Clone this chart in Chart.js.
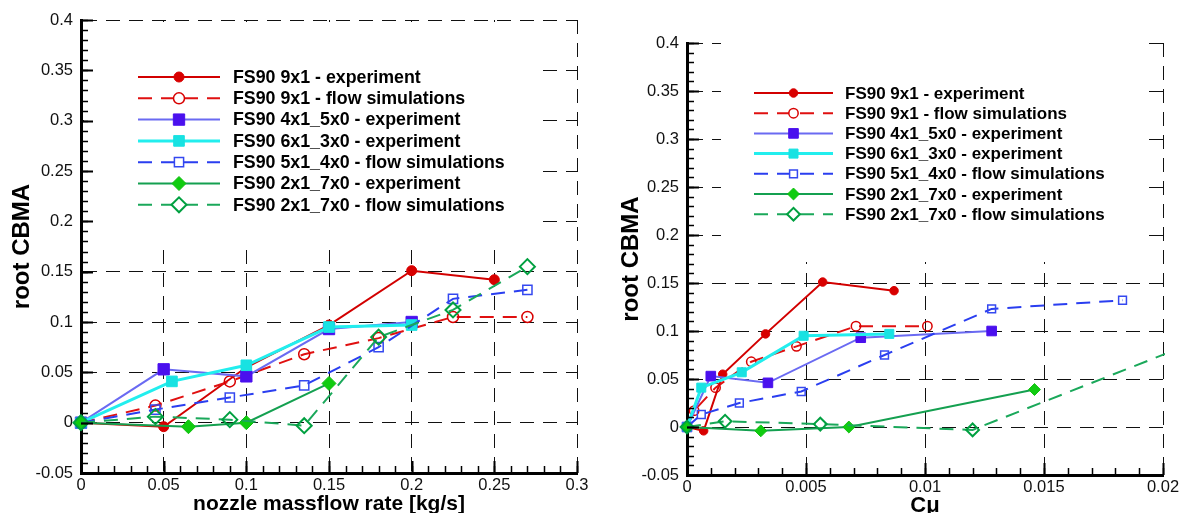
<!DOCTYPE html>
<html>
<head>
<meta charset="utf-8">
<script src="https://cdn.jsdelivr.net/npm/chart.js@4.4.0/dist/chart.umd.min.js"></script>
<style>
  body { margin: 0; background: #fff; }
  #wrap { position: relative; width: 1185px; height: 513px; overflow: hidden; background: #fff; }
  #left { position: absolute; left: 0; top: 0; }
  #right { position: absolute; left: 600px; top: 0; }
</style>
</head>
<body>
<div id="wrap">
  <canvas id="left" width="600" height="513"></canvas>
  <canvas id="right" width="585" height="513"></canvas>
</div>
<script>
const FONT = "'Liberation Sans', Arial, Helvetica, sans-serif";

const seriesLabels = [
  "FS90 9x1 - experiment",
  "FS90 9x1 - flow simulations",
  "FS90 4x1_5x0 - experiment",
  "FS90 6x1_3x0 - experiment",
  "FS90 5x1_4x0 - flow simulations",
  "FS90 2x1_7x0 - experiment",
  "FS90 2x1_7x0 - flow simulations"
];

// root CBMA values (same for both plots)
const cbma9x1Exp = [0, -0.004, 0.055, 0.097, 0.151, 0.142];
const cbma9x1Sim = [0, 0.017, 0.041, 0.068, 0.084, 0.105, 0.105];
const cbma4x1Exp = [0, 0.053, 0.046, 0.093, 0.1];
const cbma6x1Exp = [0, 0.041, 0.057, 0.095, 0.097];
const cbma5x1Sim = [0, 0.013, 0.025, 0.037, 0.075, 0.123, 0.132];
const cbma2x1Exp = [0, -0.004, 0, 0.039];
const cbma2x1Sim = [0, 0.006, 0.003, -0.003, 0.085, 0.112, 0.155];

// left plot: nozzle massflow rate [kg/s]
const mdot9x1Exp = [0, 0.05, 0.1, 0.15, 0.2, 0.25];
const mdot9x1Sim = [0, 0.045, 0.09, 0.135, 0.18, 0.225, 0.27];
const mdot4x1Exp = [0, 0.05, 0.1, 0.15, 0.2];
const mdot6x1Exp = [0, 0.055, 0.1, 0.15, 0.2];
const mdot5x1Sim = [0, 0.045, 0.09, 0.135, 0.18, 0.225, 0.27];
const mdot2x1Exp = [0, 0.065, 0.1, 0.15];
const mdot2x1Sim = [0, 0.045, 0.09, 0.135, 0.18, 0.225, 0.27];

// right plot: C mu
const cmu9x1Exp = [0, 0.0007, 0.0015, 0.0033, 0.0057, 0.0087];
const cmu9x1Sim = [0, 0.0003, 0.0012, 0.0027, 0.0046, 0.0071, 0.0101];
const cmu4x1Exp = [0, 0.001, 0.0034, 0.0073, 0.0128];
const cmu6x1Exp = [0, 0.0006, 0.0023, 0.0049, 0.0085];
const cmu5x1Sim = [0, 0.0006, 0.0022, 0.0048, 0.0083, 0.0128, 0.0183];
const cmu2x1Exp = [0, 0.0031, 0.0068, 0.0146];
const cmu2x1Sim = [0, 0.0016, 0.0056, 0.012, 0.021, 0.033, 0.0476];

// ticks
const cbmaTicks = [-0.05, 0, 0.05, 0.1, 0.15, 0.2, 0.25, 0.3, 0.35, 0.4];
const cbmaTickLabels = ["-0.05", "0", "0.05", "0.1", "0.15", "0.2", "0.25", "0.3", "0.35", "0.4"];
const mdotTicks = [0, 0.05, 0.1, 0.15, 0.2, 0.25, 0.3];
const mdotTickLabels = ["0", "0.05", "0.1", "0.15", "0.2", "0.25", "0.3"];
const cmuTicks = [0, 0.005, 0.01, 0.015, 0.02];
const cmuTickLabels = ["0", "0.005", "0.01", "0.015", "0.02"];

const DASH = [14, 9];
const CLEAR = "rgba(0,0,0,0)";
const styles = [
  { line: "#d20000", lw: 2, shape: "circle", r: 5, fill: "#d80000", edge: "#d80000", bw: 1 },
  { line: "#e01010", lw: 2, dash: DASH, shape: "circle", r: 5.5, fill: CLEAR, edge: "#d80000", bw: 1.5 },
  { line: "#6a6af2", lw: 2, shape: "rect", r: 8, fill: "#4a10ee", edge: "#4a10ee", bw: 1 },
  { line: "#22eeee", lw: 3, shape: "rect", r: 7.5, fill: "#18e2e2", edge: "#18e2e2", bw: 1 },
  { line: "#2a3ef0", lw: 2, dash: DASH, shape: "rect", r: 6.5, fill: CLEAR, edge: "#3448f0", bw: 1.5 },
  { line: "#14a050", lw: 2, shape: "rectRot", r: 7, fill: "#10cc10", edge: "#10c010", bw: 1 },
  { line: "#1aa85a", lw: 2, dash: DASH, shape: "rectRot", r: 7.5, fill: CLEAR, edge: "#00a040", bw: 2 }
];

function buildDatasets(xsList, ysList, scale) {
  return xsList.map((xs, i) => {
    const st = styles[i];
    return {
      label: seriesLabels[i],
      data: xs.map((x, k) => ({ x: x, y: ysList[i][k] })),
      showLine: true,
      tension: 0,
      borderColor: st.line,
      borderWidth: st.lw,
      borderDash: st.dash || [],
      pointStyle: st.shape,
      pointRadius: st.r * scale,
      pointHoverRadius: st.r * scale,
      pointBackgroundColor: st.fill,
      pointBorderColor: st.edge,
      pointBorderWidth: st.bw,
      order: -i,
      clip: { left: 14, top: 14, bottom: 14, right: 2 }
    };
  });
}

// white legend box, inner ticks and legend entries
const decorPlugin = {
  id: "decor",
  afterDatasetsDraw(chart, args, opts) {
    const ctx = chart.ctx;
    const area = chart.chartArea;
    const xs = chart.scales.x, ys = chart.scales.y;
    ctx.save();
    ctx.fillStyle = "#fff";
    ctx.fillRect(opts.box[0], opts.box[1], opts.box[2], opts.box[3]);

    ctx.strokeStyle = "#000";
    ctx.setLineDash([]);
    const tickSet = (scale, step, len, width, horiz) => {
      const n = Math.round((scale.max - scale.min) / step);
      ctx.lineWidth = width;
      ctx.beginPath();
      for (let k = 0; k <= n; k++) {
        const p = Math.round(scale.getPixelForValue(scale.min + k * step)) + 0.5;
        if (horiz) {
          ctx.moveTo(p, area.bottom);
          ctx.lineTo(p, area.bottom - len);
        } else {
          ctx.moveTo(area.left, p);
          ctx.lineTo(area.left + len, p);
        }
      }
      ctx.stroke();
    };
    tickSet(xs, opts.minorX, 7, 1.5, true);
    tickSet(ys, 0.01, 7, 1.5, false);
    tickSet(xs, opts.minorX * 5, 12, 2, true);
    tickSet(ys, 0.05, 12, 2, false);

    const lg = opts.legend;
    ctx.font = "bold " + lg.size + "px " + FONT;
    ctx.textBaseline = "middle";
    ctx.textAlign = "left";
    chart.data.datasets.forEach((ds, i) => {
      const y = lg.y0 + i * lg.dy;
      ctx.strokeStyle = ds.borderColor;
      ctx.lineWidth = ds.borderWidth;
      ctx.setLineDash(ds.borderDash);
      ctx.beginPath();
      ctx.moveTo(lg.x0, y);
      ctx.lineTo(lg.x1, y);
      ctx.stroke();
      ctx.setLineDash([]);
      ctx.fillStyle = ds.pointBackgroundColor === CLEAR ? "#fff" : ds.pointBackgroundColor;
      ctx.strokeStyle = ds.pointBorderColor;
      ctx.lineWidth = ds.pointBorderWidth;
      Chart.helpers.drawPoint(ctx, {
        pointStyle: ds.pointStyle, radius: ds.pointRadius, rotation: 0, borderWidth: ds.pointBorderWidth
      }, (lg.x0 + lg.x1) / 2, y);
      ctx.fillStyle = "#000";
      ctx.fillText(ds.label, lg.xt, y + 1);
    });
    ctx.restore();
  }
};

function makeChart(id, cfg) {
  return new Chart(document.getElementById(id), {
    type: "scatter",
    data: { datasets: cfg.datasets },
    plugins: [decorPlugin],
    options: {
      responsive: false,
      animation: false,
      events: [],
      layout: { padding: cfg.padding },
      plugins: {
        legend: { display: false },
        tooltip: { enabled: false },
        decor: cfg.decor
      },
      scales: {
        x: {
          type: "linear",
          min: cfg.xTicks[0],
          max: cfg.xTicks[cfg.xTicks.length - 1],
          afterBuildTicks: (s) => { s.ticks = cfg.xTicks.map(v => ({ value: v })); },
          afterFit: (s) => { s.height = cfg.xHeight; },
          ticks: {
            callback: (v, i) => cfg.xLabels[i],
            font: { family: FONT, size: 16.5 },
            color: "#111",
            padding: 3,
            maxRotation: 0,
            autoSkip: false
          },
          grid: { color: "#111", lineWidth: 1, drawTicks: false },
          border: { display: true, color: "#000", width: 3, dash: DASH },
          title: {
            display: true,
            text: cfg.xTitle,
            color: "#000",
            font: { family: FONT, size: cfg.xTitleSize, weight: "bold", lineHeight: cfg.xTitleLH },
            padding: { top: 0, bottom: 0 }
          }
        },
        y: {
          type: "linear",
          min: -0.05,
          max: 0.4,
          afterBuildTicks: (s) => { s.ticks = cbmaTicks.map(v => ({ value: v })); },
          afterFit: (s) => { s.width = cfg.yWidth; },
          ticks: {
            callback: (v, i) => cbmaTickLabels[i],
            font: { family: FONT, size: 16.5 },
            color: "#111",
            padding: 8,
            autoSkip: false
          },
          grid: { color: "#111", lineWidth: 1, drawTicks: false },
          border: { display: true, color: "#000", width: 3, dash: DASH },
          title: {
            display: true,
            text: "root CBMA",
            color: "#000",
            font: { family: FONT, size: 24, weight: "bold", lineHeight: 1 },
            padding: { top: cfg.yTitlePad, bottom: 0 }
          }
        }
      }
    }
  });
}

makeChart("left", {
  datasets: buildDatasets(
    [mdot9x1Exp, mdot9x1Sim, mdot4x1Exp, mdot6x1Exp, mdot5x1Sim, mdot2x1Exp, mdot2x1Sim],
    [cbma9x1Exp, cbma9x1Sim, cbma4x1Exp, cbma6x1Exp, cbma5x1Sim, cbma2x1Exp, cbma2x1Sim], 1),
  padding: { left: 0, right: 23, top: 20, bottom: 0 },
  xTicks: mdotTicks,
  xLabels: mdotTickLabels,
  xTitle: "nozzle massflow rate [kg/s]",
  xTitleSize: 21,
  xTitleLH: 0.8,
  xHeight: 40,
  yWidth: 81,
  yTitlePad: 10,
  decor: {
    box: [84, 22, 457, 226],
    minorX: 0.01,
    legend: { x0: 138, x1: 220, xt: 233, y0: 77, dy: 21.3, size: 17.8 }
  }
});

makeChart("right", {
  datasets: buildDatasets(
    [cmu9x1Exp, cmu9x1Sim, cmu4x1Exp, cmu6x1Exp, cmu5x1Sim, cmu2x1Exp, cmu2x1Sim],
    [cbma9x1Exp, cbma9x1Sim, cbma4x1Exp, cbma6x1Exp, cbma5x1Sim, cbma2x1Exp, cbma2x1Sim], 0.85),
  padding: { left: 0, right: 22, top: 43, bottom: 0 },
  xTicks: cmuTicks,
  xLabels: cmuTickLabels,
  xTitle: "Cμ",
  xTitleSize: 22,
  xTitleLH: 0.6,
  xHeight: 38,
  yWidth: 87,
  yTitlePad: 19,
  decor: {
    box: [121, 30, 424, 232],
    minorX: 0.001,
    legend: { x0: 154, x1: 233, xt: 245, y0: 93, dy: 20.2, size: 17 }
  }
});
</script>
</body>
</html>
